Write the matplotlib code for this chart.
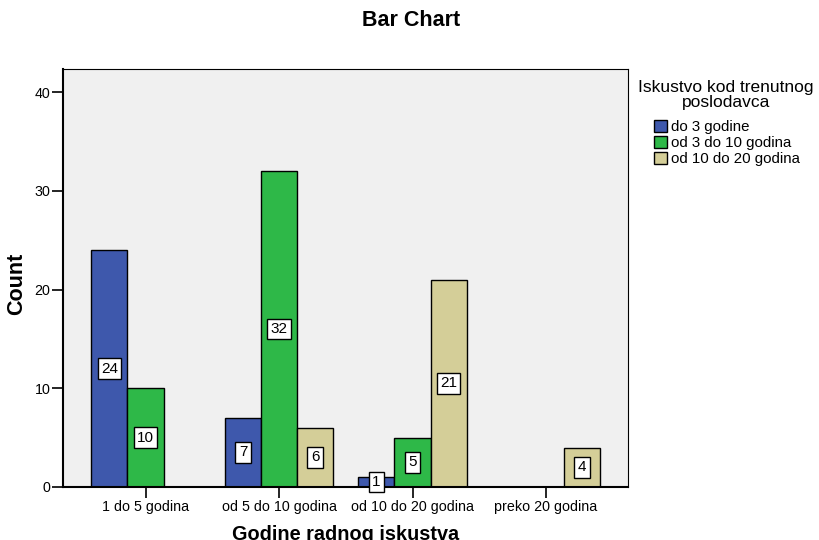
import numpy as np
import matplotlib
matplotlib.use('Agg')
import matplotlib.pyplot as plt
from matplotlib.patches import Patch

plt.rcParams['font.family'] = ['Liberation Sans', 'DejaVu Sans']

categories = ['1 do 5 godina', 'od 5 do 10 godina', 'od 10 do 20 godina', 'preko 20 godina']
series_names = ['do 3 godine', 'od 3 do 10 godina', 'od 10 do 20 godina']
do3 = [24, 7, 1, 0]
od3do10 = [10, 32, 5, 0]
od10do20 = [0, 6, 21, 4]
colors = ['#3E58AC', '#2EB848', '#D4CE98']

series = [do3, od3do10, od10do20]

W, H = 819, 540
fig = plt.figure(figsize=(W / 100, H / 100), dpi=100)
ax = fig.add_axes([63 / W, 1 - 487 / H, (628 - 63) / W, (487 - 69) / H])
ax.set_facecolor('#F0F0F0')

x = np.arange(len(categories))
w = 0.27
for i, (vals, c) in enumerate(zip(series, colors)):
    pos = x + (i - 1) * w
    for p, v in zip(pos, vals):
        if v <= 0:
            continue
        ax.bar(p, v, width=w, color=c, edgecolor='black', linewidth=1, zorder=2)
        ax.text(p, v / 2, str(v), ha='center', va='center', fontsize=11, zorder=3,
                bbox=dict(boxstyle='square,pad=0.22', facecolor='white', edgecolor='black', linewidth=1))

ax.set_xlim(-0.618, 3.614)
ax.set_ylim(0, 42.33)
ax.set_yticks([0, 10, 20, 30, 40])
ax.set_xticks(x)
ax.set_xticklabels(categories)
ax.tick_params(axis='both', labelsize=10.3, length=8, width=1.2, direction='out', color='black', pad=1)
for s in ['left', 'bottom']:
    ax.spines[s].set_linewidth(1.5)
for s in ['top', 'right']:
    ax.spines[s].set_linewidth(0.8)

ax.set_ylabel('Count', fontsize=15.5, fontweight='bold')
ax.yaxis.set_label_coords(-0.063, 0.486)
ax.set_xlabel('Godine radnog iskustva', fontsize=14.3, fontweight='bold', labelpad=8.5)
fig.text(411 / W, 1 - 20 / H, 'Bar Chart', ha='center', va='center', fontsize=15.5, fontweight='bold')

# legend title drawn separately so it can be centred
fig.text(726 / W, 1 - 95 / H, 'Iskustvo kod trenutnog\nposlodavca', ha='center', va='center',
         fontsize=12.5, linespacing=1.05)
handles = [Patch(facecolor=c, edgecolor='black', label=n) for c, n in zip(colors, series_names)]
fig.legend(handles=handles, loc='upper left', bbox_to_anchor=(654 / W, 1 - 120 / H),
           frameon=False, fontsize=10.8, borderpad=0, borderaxespad=0,
           handlelength=0.85, handleheight=0.85, handletextpad=0.3, labelspacing=0.12)

fig.savefig('out.png', dpi=100)
